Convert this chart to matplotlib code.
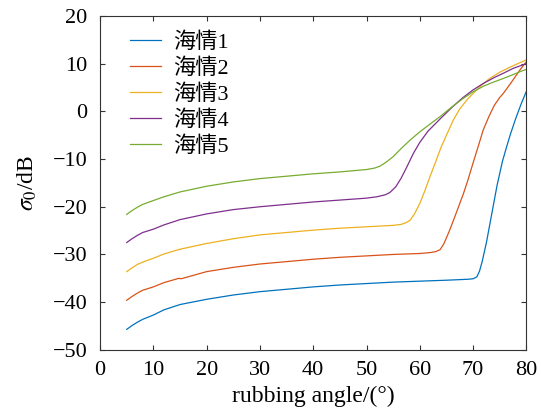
import matplotlib
matplotlib.use('Agg')
import matplotlib.pyplot as plt

plt.rcParams['font.family'] = ['Liberation Serif', 'Noto Sans CJK SC']
plt.rcParams['mathtext.fontset'] = 'stix'
plt.rcParams['axes.unicode_minus'] = True

# 读图得到的数据点
x1 = [5, 6, 7, 8, 10, 12, 15, 20, 25, 30, 35, 40, 45, 50, 55, 60, 65, 69, 70,
      70.7, 71.2, 71.7, 72.5, 73.5, 74.5, 75.5, 76.3, 77, 78, 79, 80]
y1 = [-45.7, -44.9, -44.2, -43.6, -42.7, -41.6, -40.5, -39.4, -38.5, -37.8, -37.3,
      -36.8, -36.4, -36.1, -35.8, -35.6, -35.4, -35.2, -35.1,
      -34.7, -33.5, -31.5, -27.5, -21.5, -15.5, -10.5, -7.4, -4.8, -1.5, 1.5, 4.2]

x2 = [5, 6, 7, 8, 10, 12, 14.8, 15.2, 20, 25, 30, 35, 40, 45, 50, 55, 60, 62, 63,
      63.8, 64.5, 65.5, 66.5, 67.5, 68.2, 69, 70, 71, 71.9, 73, 74, 75, 75.7,
      77, 78, 79, 80]
y2 = [-39.6, -38.8, -38.1, -37.5, -36.8, -35.9, -35.0, -35.1, -33.6, -32.7, -32.0,
      -31.5, -31.0, -30.6, -30.3, -30.0, -29.8, -29.6, -29.4,
      -29.0, -27.8, -25.2, -22.3, -19.3, -17.2, -14.5, -10.8, -7.2, -3.9, -1.0,
      1.3, 2.9, 3.8, 5.8, 7.4, 9.0, 10.4]

x3 = [5, 6, 7, 8, 10, 12, 15, 20, 25, 30, 35, 40, 45, 50, 55, 56.5, 57.5, 58.2,
      59, 60, 61, 61.9, 63, 64, 65, 66.3, 67.5, 69, 71.3, 73, 75, 77, 79, 80]
y3 = [-33.6, -32.8, -32.1, -31.6, -30.8, -29.9, -28.9, -27.7, -26.7, -25.9, -25.4,
      -24.9, -24.5, -24.2, -23.9, -23.7, -23.3, -22.8,
      -21.5, -19.3, -16.5, -13.7, -10.5, -7.5, -5.0, -1.8, 0.5, 2.6, 5.2, 6.8,
      8.2, 9.3, 10.3, 10.8]

x4 = [5, 6, 7, 8, 10, 12, 15, 20, 25, 30, 35, 40, 45, 50, 52, 53.5, 54.4, 55.5,
      56.5, 57.5, 58.8, 60, 61.5, 63.8, 66, 68, 70, 72, 74, 75.7, 77.5, 79, 80]
y4 = [-27.5, -26.7, -26.0, -25.4, -24.7, -23.8, -22.7, -21.5, -20.6, -20.0, -19.5,
      -19.0, -18.6, -18.2, -17.9, -17.5, -17.0, -15.8,
      -14.0, -11.8, -8.8, -6.5, -4.2, -1.6, 0.8, 2.8, 4.5, 5.9, 7.1, 8.0, 9.0,
      9.6, 10.0]

x5 = [5, 6, 7, 8, 10, 12, 15, 20, 25, 30, 35, 40, 45, 48, 50, 51.5, 52.5, 53.5,
      55, 56.5, 58.2, 60, 62, 63.8, 66, 68, 70, 72, 74, 75.7, 77.5, 79, 80]
y5 = [-21.6, -20.8, -20.1, -19.5, -18.7, -17.9, -16.9, -15.7, -14.8, -14.1, -13.6,
      -13.1, -12.7, -12.4, -12.2, -11.9, -11.5, -10.8,
      -9.5, -7.8, -6.0, -4.3, -2.6, -1.1, 0.9, 2.6, 4.1, 5.3, 6.2, 6.9, 7.7,
      8.4, 8.8]

labels = ['海情1', '海情2', '海情3', '海情4', '海情5']
colors = ['#0072BD', '#D95319', '#EDB120', '#7E2F8E', '#77AC30']

fig = plt.figure(figsize=(5.41, 4.19), dpi=100)
ax = fig.add_axes([0.185, 0.165, 0.788, 0.797])

for xs, ys, lab, c in zip([x1, x2, x3, x4, x5], [y1, y2, y3, y4, y5], labels, colors):
    ax.plot(xs, ys, color=c, linewidth=0.9, label=lab)

ax.set_xlim(0, 80)
ax.set_ylim(-50, 20)
ax.set_xticks(range(0, 81, 10))
ax.set_yticks(range(-50, 21, 10))
ax.tick_params(direction='in', top=True, right=True, length=3.5, width=0.8,
               labelsize=16, colors='#333333', labelcolor='black')
ax.tick_params(axis='x', pad=8)
ax.tick_params(axis='y', pad=9)
for s in ax.spines.values():
    s.set_color('#333333')
    s.set_linewidth(0.8)

ax.set_xlabel('rubbing angle/(°)', fontsize=17, labelpad=4)
ax.set_ylabel(r'$\sigma_0$/dB', fontsize=17, labelpad=10)

ax.legend(loc='upper left', frameon=False, fontsize=16, handlelength=1.4,
          handletextpad=0.55, labelspacing=0.24, borderaxespad=0.35,
          bbox_to_anchor=(0.03, 1.0))

fig.savefig('out.png', dpi=100)
